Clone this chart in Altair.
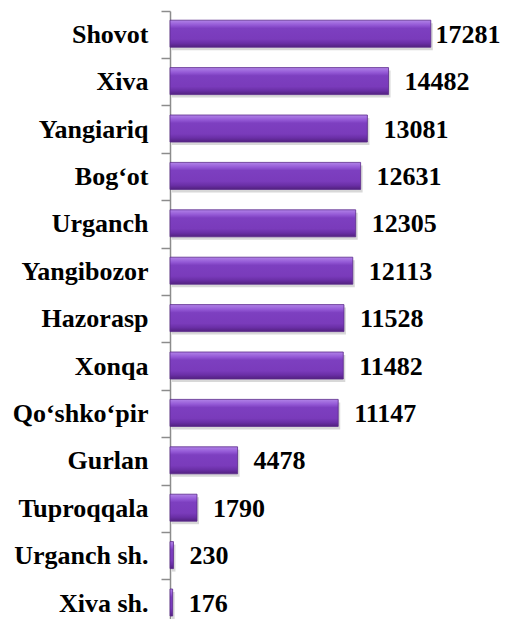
import altair as alt
import pandas as pd

districts = ["Shovot", "Xiva", "Yangiariq", "Bog‘ot", "Urganch", "Yangibozor",
             "Hazorasp", "Xonqa", "Qo‘shko‘pir", "Gurlan", "Tuproqqala",
             "Urganch sh.", "Xiva sh."]
values = [17281, 14482, 13081, 12631, 12305, 12113, 11528, 11482, 11147,
          4478, 1790, 230, 176]

df = pd.DataFrame({"district": districts, "value": values})

FONT = "Liberation Serif"

y_enc = alt.Y("district:N", sort=districts,
              scale=alt.Scale(domain=districts, range=[0, 616.2],
                              paddingInner=0, paddingOuter=0),
              axis=alt.Axis(title=None, labelFont=FONT, labelFontSize=26,
                            labelFontWeight="bold", labelColor="black",
                            labelPadding=13, tickSize=9, tickColor="#8c8c8c",
                            tickWidth=1.5, domainColor="#8c8c8c", domainWidth=1.5,
                            bandPosition=0, labelAlign="right",
                            labelBaseline="middle"))
x_scale = alt.Scale(domain=[0, 22000], nice=False)
x_enc = alt.X("value:Q", scale=x_scale, axis=None)

gradient = alt.Gradient(
    gradient="linear",
    stops=[alt.GradientStop(color="#b183e8", offset=0),
           alt.GradientStop(color="#9459d6", offset=0.18),
           alt.GradientStop(color="#7d3fc0", offset=0.3),
           alt.GradientStop(color="#7a3bbb", offset=0.7),
           alt.GradientStop(color="#6a2fa6", offset=0.85),
           alt.GradientStop(color="#52217f", offset=1)],
    x1=0, x2=0, y1=0, y2=1)

base = alt.Chart(df)

shadow = base.mark_bar(size=27, yOffset=2, xOffset=2, color="#c8c8c8",
                       opacity=0.7).encode(y=y_enc, x=x_enc)

bars = base.mark_bar(size=27, yOffset=-1, color=gradient, stroke="#5b2a8a",
                     strokeWidth=0.8).encode(y=y_enc, x=x_enc)

labels = base.transform_calculate(
    lx="min(datum.value + 1060, 17600)"
).mark_text(align="left", baseline="middle", font=FONT, fontSize=26,
            fontWeight="bold", color="black").encode(
    y=y_enc,
    x=alt.X("lx:Q", scale=x_scale, axis=None),
    text=alt.Text("value:Q", format="d"))

chart = alt.layer(shadow, bars, labels).properties(
    width=332, height=608,
    autosize=alt.AutoSizeParams(type="none"),
    padding={"left": 162, "top": 3, "right": 0, "bottom": 0}
).configure_view(stroke=None)

chart.save("out.html", embed_options={"renderer": "svg", "actions": False})
